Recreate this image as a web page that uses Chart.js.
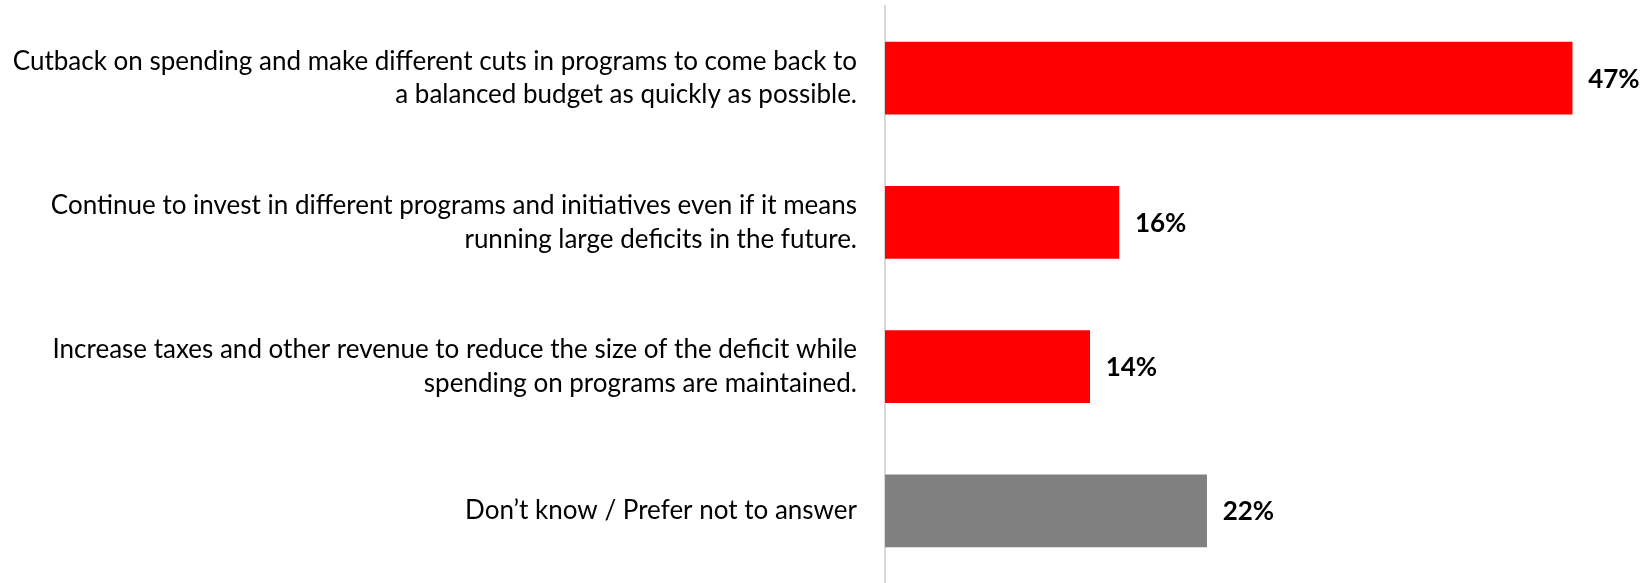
<!DOCTYPE html>
<html>
<head>
<meta charset="utf-8">
<script src="https://cdn.jsdelivr.net/npm/chart.js@4"></script>
<style>
  html, body { margin: 0; padding: 0; background: #fff; }
  #wrap { width: 1651px; height: 583px; }
</style>
</head>
<body>
<div id="wrap"><canvas id="budgetChart" width="1651" height="583"></canvas></div>
<script>
// Answer options (each split into display lines)
const categories = [
    ['Cutback on spending and make different cuts in programs to come back to', 'a balanced budget as quickly as possible.'],
    ['Continue to invest in different programs and initiatives even if it means', 'running large deficits in the future.'],
    ['Increase taxes and other revenue to reduce the size of the deficit while', 'spending on programs are maintained.'],
    'Don\u2019t know / Prefer not to answer'
];
const values = [47, 16, 14, 22];
const barColors = ['#FF0000', '#FF0000', '#FF0000', '#808080'];

const fontFamily = 'Lato, "Open Sans", sans-serif';

// Draw the percentage to the right of each bar
const valueLabels = {
    id: 'valueLabels',
    afterDatasetsDraw(chart) {
        const ctx = chart.ctx;
        const meta = chart.getDatasetMeta(0);
        ctx.save();
        ctx.font = 'bold 26px ' + fontFamily;
        ctx.fillStyle = '#000';
        ctx.textAlign = 'left';
        ctx.textBaseline = 'middle';
        meta.data.forEach((bar, i) => {
            ctx.fillText(values[i] + '%', bar.x + 16, bar.y + 1);
        });
        ctx.restore();
    }
};

const chartConfig = {
    type: 'bar',
    data: {
        labels: categories,
        datasets: [{
            data: values,
            backgroundColor: barColors,
            borderWidth: 0,
            barThickness: 72
        }]
    },
    options: {
        indexAxis: 'y',
        responsive: false,
        animation: false,
        layout: { padding: { top: 6, right: 35, bottom: 0, left: 0 } },
        plugins: {
            legend: { display: false },
            tooltip: { enabled: false }
        },
        scales: {
            x: {
                display: false,
                min: 0,
                max: 50
            },
            y: {
                afterFit(scale) {
                    scale.width = 885;
                    // no extra room above/below for the tick labels
                    scale.paddingTop = 0;
                    scale.paddingBottom = 0;
                },
                grid: { display: false, drawTicks: false },
                border: { display: true, color: '#d9d9d9', width: 2 },
                ticks: {
                    padding: 28,
                    color: '#000',
                    font: { size: 26, family: fontFamily, lineHeight: 1.3 }
                }
            }
        }
    },
    plugins: [valueLabels]
};

new Chart(document.getElementById('budgetChart'), chartConfig);
</script>
</body>
</html>
